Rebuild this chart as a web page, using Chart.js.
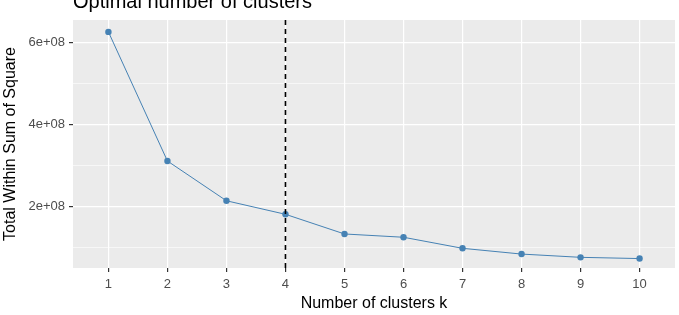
<!DOCTYPE html>
<html>
<head>
<meta charset="utf-8">
<script src="https://cdn.jsdelivr.net/npm/chart.js@4.4.0/dist/chart.umd.min.js"></script>
<style>
  html, body { margin: 0; padding: 0; background: #fff; }
  #wrap { position: relative; width: 679px; height: 315px; }
</style>
</head>
<body>
<div id="wrap"><canvas id="elbow" width="679" height="315"></canvas></div>
<script>
// elbow data
const clusters = [1, 2, 3, 4, 5, 6, 7, 8, 9, 10];
const withinSS = [6.25e8, 3.10e8, 2.13e8, 1.80e8, 1.32e8, 1.24e8, 0.97e8, 0.83e8, 0.75e8, 0.72e8];
const optimalK = 4;
const yTicks = [1e8, 2e8, 3e8, 4e8, 5e8, 6e8];
const yLabels = { 200000000: "2e+08", 400000000: "4e+08", 600000000: "6e+08" };
const yRange = [0.49e8, 6.54e8];
const xRange = [0.4, 10.6];

const FONT = "'Liberation Sans', Arial, sans-serif";
const isMajor = (v) => yLabels[v] !== undefined;

const ggPanel = {
  id: "ggPanel",
  beforeDraw(chart) {
    const { ctx, chartArea: a } = chart;
    ctx.save();
    ctx.fillStyle = "#EBEBEB";
    ctx.fillRect(a.left, a.top, a.right - a.left, a.bottom - a.top);
    ctx.restore();
  },
  afterDraw(chart) {
    const { ctx, chartArea: a } = chart;
    ctx.save();
    ctx.font = "20px " + FONT;
    ctx.fillStyle = "#000";
    ctx.textBaseline = "alphabetic";
    ctx.textAlign = "left";
    ctx.fillText("Optimal number of clusters", a.left, 8);
    ctx.restore();
  },
};

new Chart(document.getElementById("elbow"), {
  type: "line",
  data: {
    datasets: [
      {
        data: [{ x: optimalK, y: yRange[0] }, { x: optimalK, y: yRange[1] }],
        borderColor: "#000",
        borderWidth: 1.6,
        borderDash: [5, 4],
        pointRadius: 0,
      },
      {
        data: clusters.map((k, i) => ({ x: k, y: withinSS[i] })),
        borderColor: "#4682B4",
        backgroundColor: "#4682B4",
        borderWidth: 1,
        pointRadius: 3.2,
        pointBorderWidth: 0,
        tension: 0,
      },
    ],
  },
  options: {
    responsive: false,
    animation: false,
    layout: { padding: { top: 20, right: 2, left: 0, bottom: 0 } },
    plugins: { legend: { display: false }, tooltip: { enabled: false } },
    scales: {
      x: {
        type: "linear",
        min: xRange[0],
        max: xRange[1],
        afterBuildTicks: (s) => { s.ticks = clusters.map((v) => ({ value: v })); },
        afterFit: (s) => { s.height = 47; },
        ticks: { callback: (v) => String(v), color: "#4D4D4D", font: { family: FONT, size: 13 }, padding: 5, autoSkip: false, maxRotation: 0 },
        grid: { color: "#fff", lineWidth: 1.2, tickColor: "#333", tickLength: 4 },
        border: { display: false },
        title: { display: true, text: "Number of clusters k", color: "#000", font: { family: FONT, size: 16 }, padding: { top: 0, bottom: 2 } },
      },
      y: {
        min: yRange[0],
        max: yRange[1],
        afterBuildTicks: (s) => { s.ticks = yTicks.map((v) => ({ value: v })); },
        afterFit: (s) => { s.width = 73; },
        ticks: { callback: (v) => yLabels[v] || "", color: "#4D4D4D", font: { family: FONT, size: 13 }, padding: 4, autoSkip: false },
        grid: {
          color: "#fff",
          lineWidth: (c) => (isMajor(c.tick.value) ? 1.2 : 0.6),
          tickColor: (c) => (isMajor(c.tick.value) ? "#333" : "rgba(0,0,0,0)"),
          tickLength: 4,
        },
        border: { display: false },
        title: { display: true, text: "Total Within Sum of Square", color: "#000", font: { family: FONT, size: 16 }, padding: { top: 1, bottom: 0 } },
      },
    },
  },
  plugins: [ggPanel],
});
</script>
</body>
</html>
